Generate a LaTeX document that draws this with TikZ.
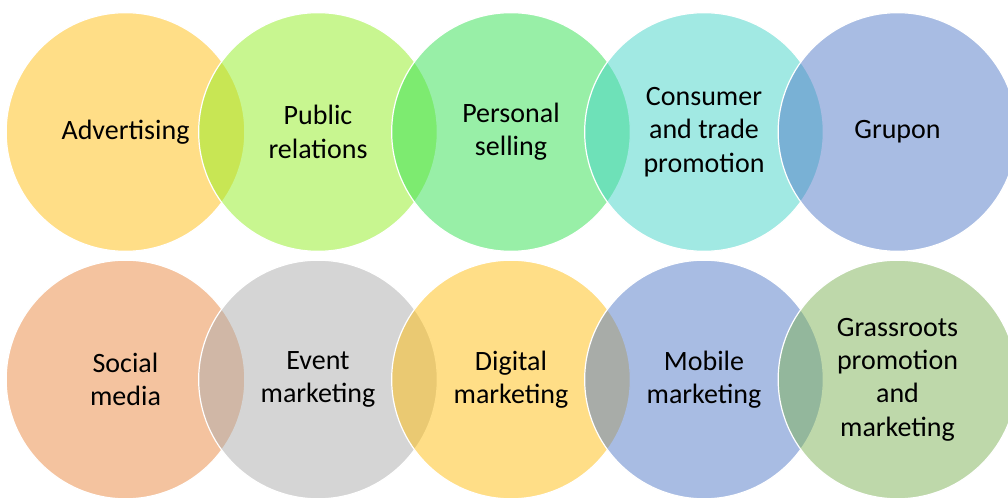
\documentclass[tikz,border=0pt]{standalone}
\usepackage{fontspec}
\setmainfont{Carlito}

\definecolor{cGold}{RGB}{255,191,17}
\definecolor{cLime}{RGB}{147,239,35}
\definecolor{cMint}{RGB}{51,225,81}
\definecolor{cTeal}{RGB}{69,213,201}
\definecolor{cBlue}{RGB}{83,123,201}
\definecolor{cOrange}{RGB}{235,137,65}
\definecolor{cGrey}{RGB}{173,173,173}
\definecolor{cLeaf}{RGB}{127,179,87}

\tikzset{
	bubble/.style={circle, minimum size=179pt, inner sep=0pt, draw=white, line width=0.9pt,
			fill opacity=0.5, text opacity=1, align=center,
			font=\fontsize{21}{25}\selectfont}
}

\begin{document}
\begin{tikzpicture}[x=0.75pt, y=-0.75pt]

		\clip (0,0) rectangle (1008,498);
		\fill[white] (0,0) rectangle (1008,498);

		% top row
		\node[bubble, fill=cGold] (adv) at (125.5, 132) {Advertising};
		\node[bubble, fill=cLime] (pr) at (318, 132) {Public\\relations};
		\node[bubble, fill=cMint] (ps) at (511, 132) {Personal\\selling};
		\node[bubble, fill=cTeal] (ctp) at (704, 132) {Consumer\\and trade\\promotion};
		\node[bubble, fill=cBlue] (grp) at (897.5, 132) {Grupon};

		% bottom row
		\node[bubble, fill=cOrange] (sm) at (125.5, 379.5) {Social\\media};
		\node[bubble, fill=cGrey] (em) at (318, 379.5) {Event\\marketing};
		\node[bubble, fill=cGold] (dm) at (511, 379.5) {Digital\\marketing};
		\node[bubble, fill=cBlue] (mm) at (704, 379.5) {Mobile\\marketing};
		\node[bubble, fill=cLeaf] (gpm) at (897.5, 379.5) {Grassroots\\promotion\\and\\marketing};

	\end{tikzpicture}
\end{document}
